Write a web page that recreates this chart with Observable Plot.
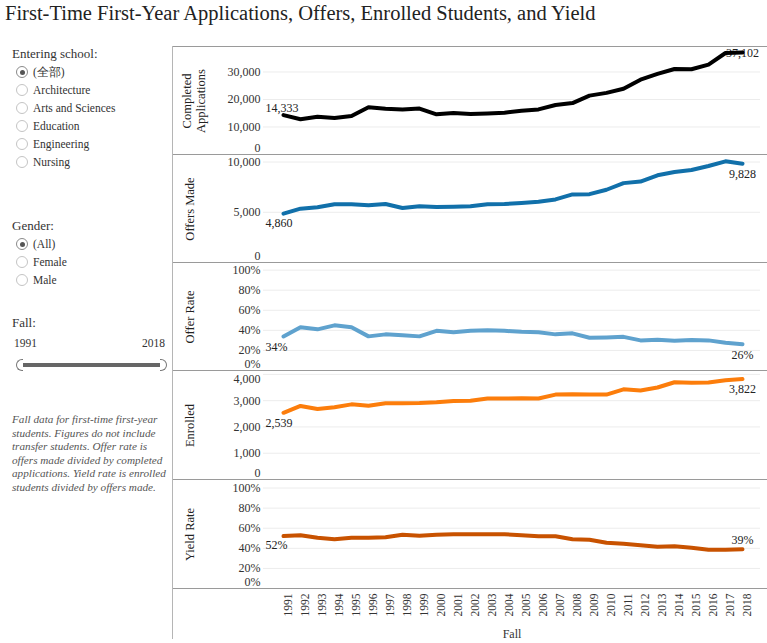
<!DOCTYPE html>
<html><head><meta charset="utf-8">
<script src="https://cdn.jsdelivr.net/npm/d3@7"></script>
<script src="https://cdn.jsdelivr.net/npm/@observablehq/plot@0.6"></script>
<style>
body{margin:0;width:767px;height:643px;overflow:hidden;background:#fff;font-family:"Liberation Serif",serif;color:#333;position:relative}
#title{position:absolute;left:5px;top:2px;font-size:20.5px;color:#222;white-space:nowrap}
.hdr{position:absolute;left:12px;font-size:13px;color:#333;line-height:16px}
.item{position:absolute;left:16px;font-size:11.5px;color:#333;line-height:14px;height:14px;white-space:nowrap}
.item .r{display:inline-block;width:12px;height:12px;border:1px solid #c4c4c4;border-radius:50%;box-sizing:border-box;vertical-align:-2px;margin-right:5px;position:relative}
.item .r.on{border-color:#8a8a8a}
.item .r.on::after{content:"";position:absolute;left:2.5px;top:2.5px;width:5px;height:5px;border-radius:50%;background:#555}
.yr{position:absolute;font-size:11.5px;color:#333}
#bar{position:absolute;left:22px;top:363px;width:138px;height:4px;background:#666}
.hd{position:absolute;top:359px;width:7px;height:12px;border:1px solid #777;background:#fff;box-sizing:border-box}
#note{position:absolute;left:12px;top:413px;font-size:11.2px;line-height:13.6px;font-style:italic;color:#555;white-space:nowrap}
#charts{position:absolute;left:172px;top:46px;width:594px;border-left:1px solid #b5b5b5}
.panel{border-top:1px solid #9a9a9a}
.panel svg,#xaxis svg{display:block;overflow:visible}
#xaxis{border-top:1px solid #9a9a9a}
</style></head>
<body>
<div id="title">First-Time First-Year Applications, Offers, Enrolled Students, and Yield</div>
<div id="side"></div>
<div id="bar"></div>
<div class="hd" style="left:16px;border-radius:6px 0 0 6px;border-right:none"></div>
<div class="hd" style="left:160px;border-radius:0 6px 6px 0;border-left:none"></div>
<div id="note">Fall data for first-time first-year<br>students. Figures do not include<br>transfer students. Offer rate is<br>offers made divided by completed<br>applications. Yield rate is enrolled<br>students divided by offers made.</div>
<div id="charts"></div>
<script>
// ---- data ----
const years = [1991,1992,1993,1994,1995,1996,1997,1998,1999,2000,2001,2002,2003,2004,2005,2006,2007,2008,2009,2010,2011,2012,2013,2014,2015,2016,2017,2018];
const applications = [14333,12800,13700,13300,14000,17200,16600,16400,16700,14600,15100,14700,14900,15200,15900,16400,18000,18700,21400,22400,23900,27200,29300,31100,31000,32700,36900,37102];
const offers = [4860,5360,5500,5790,5790,5690,5820,5430,5600,5530,5560,5600,5800,5820,5920,6050,6280,6780,6800,7240,7900,8060,8680,9000,9200,9600,10070,9828];
const offerRate = [0.339,0.43,0.41,0.45,0.43,0.34,0.36,0.35,0.34,0.395,0.38,0.395,0.40,0.395,0.385,0.38,0.36,0.37,0.326,0.33,0.335,0.30,0.306,0.296,0.305,0.30,0.276,0.262];
const enrolled = [2539,2800,2680,2750,2860,2810,2900,2900,2910,2940,2990,3000,3080,3080,3090,3080,3230,3240,3230,3230,3430,3390,3500,3700,3680,3690,3780,3822];
const yieldRate = [0.522,0.53,0.505,0.49,0.505,0.505,0.51,0.535,0.525,0.535,0.54,0.54,0.54,0.54,0.53,0.52,0.52,0.49,0.485,0.455,0.445,0.43,0.415,0.42,0.405,0.385,0.385,0.39];

const appTicks = [0,10000,20000,30000];
const offerTicks = [0,5000,10000];
const pctTicks = [0,0.2,0.4,0.6,0.8,1];
const enrTicks = [0,1000,2000,3000,4000];

const schools = ["(全部)","Architecture","Arts and Sciences","Education","Engineering","Nursing"];
const genders = ["(All)","Female","Male"];
const fallRange = [1991, 2018];

// ---- side filters ----
const side = document.getElementById("side");
function hdr(t, top){const d=document.createElement("div");d.className="hdr";d.style.top=top+"px";d.textContent=t;side.appendChild(d);}
function items(list, top){list.forEach((t,i)=>{const d=document.createElement("div");d.className="item";d.style.top=(top+i*18)+"px";d.innerHTML='<span class="r'+(i===0?' on':'')+'"></span>';d.appendChild(document.createTextNode(t));side.appendChild(d);});}
hdr("Entering school:", 46);
items(schools, 65);
hdr("Gender:", 218);
items(genders, 237);
hdr("Fall:", 315);
const y0=document.createElement("div");y0.className="yr";y0.style.left="14px";y0.style.top="337px";y0.textContent=fallRange[0];side.appendChild(y0);
const y1=document.createElement("div");y1.className="yr";y1.style.left="142px";y1.style.top="337px";y1.textContent=fallRange[1];side.appendChild(y1);

// ---- panels ----
const fmtN = d3.format(",");
const fmtP = d3.format(".0%");
const panels = [
  {values:applications, label:"Completed\nApplications", color:"#000000", max:38900, ticks:appTicks, fmt:fmtN, h:107, ldx:-70, first:{anchor:"bottom", dy:-3}, last:{anchor:"middle", dy:1}},
  {values:offers, label:"Offers Made", color:"#1170aa", max:10650, ticks:offerTicks, fmt:fmtN, h:107, ldx:-74, first:{anchor:"top", dy:5}, last:{anchor:"top", dy:6}},
  {values:offerRate, label:"Offer Rate", color:"#5fa2ce", max:1.066, ticks:pctTicks, fmt:fmtP, h:107, ldx:-74, first:{anchor:"top", dy:6}, last:{anchor:"top", dy:6}},
  {values:enrolled, label:"Enrolled", color:"#fc7d0b", max:4110, ticks:enrTicks, fmt:fmtN, h:108, ldx:-74, first:{anchor:"top", dy:6}, last:{anchor:"top", dy:5}},
  {values:yieldRate, label:"Yield Rate", color:"#c85200", max:1.075, ticks:pctTicks, fmt:fmtP, h:108, ldx:-74, first:{anchor:"top", dy:4}, last:{anchor:"bottom", dy:-5}}
];
const W = 594, ML = 90, MR = 7;
const xOpt = {type:"linear", domain:[years[0], years[years.length-1]], insetLeft:20, insetRight:18};
const charts = document.getElementById("charts");
const style = {fontFamily:"Liberation Serif", fontSize:"12px", color:"#333", background:"transparent"};

panels.forEach(p => {
  const data = years.map((y,i)=>({year:y, value:p.values[i]}));
  const first = [data[0]], last = [data[data.length-1]];
  const zero = p.ticks.filter(t=>t===0);
  const top = p.ticks.filter(t=>t/p.max>0.95);
  const mid = p.ticks.filter(t=>t!==0 && t/p.max<=0.95);
  const tickText = (arr, la, dy) => Plot.text(arr, {y:d=>d, text:d=>p.fmt(d), frameAnchor:"left", textAnchor:"end", lineAnchor:la, dx:-3, dy, fill:"#333"});
  const svg = Plot.plot({
    width: W, height: p.h, marginLeft: ML, marginRight: MR, marginTop: 0, marginBottom: 0,
    style,
    x: {...xOpt, axis:null},
    y: {domain:[0,p.max], axis:null},
    marks: [
      Plot.ruleY(p.ticks.filter(t=>t>0), {stroke:"#ececec", strokeWidth:1}),
      tickText(zero, "bottom", -3),
      tickText(mid, "middle", 0),
      tickText(top, "top", 0),
      Plot.text([p.label], {text:d=>d, frameAnchor:"left", textAnchor:"middle", dx:p.ldx, rotate:-90, fontSize:12.5, lineHeight:1.1, fill:"#222"}),
      Plot.text(first, {x:"year", y:"value", text:d=>p.fmt(d.value), textAnchor:"start", dx:-18, lineAnchor:p.first.anchor, dy:p.first.dy, fill:"#222"}),
      Plot.text(last, {x:"year", y:"value", text:d=>p.fmt(d.value), textAnchor:"middle", lineAnchor:p.last.anchor, dy:p.last.dy, fill:"#222"}),
      Plot.line(data, {x:"year", y:"value", stroke:p.color, strokeWidth:4, strokeLinejoin:"round", strokeLinecap:"round"})
    ]
  });
  const div = document.createElement("div");
  div.className = "panel";
  div.appendChild(svg);
  charts.appendChild(div);
});

const xa = document.createElement("div");
xa.id = "xaxis";
xa.appendChild(Plot.plot({
  width: W, height: 50, marginLeft: ML, marginRight: MR, marginTop: 0, marginBottom: 0,
  style,
  x: {...xOpt, axis:null},
  marks: [
    Plot.text(years, {x:d=>d, text:d=>String(d), frameAnchor:"top", rotate:-90, textAnchor:"end", dy:4, fill:"#333", fontSize:11.5}),
    Plot.text(["Fall"], {text:d=>d, frameAnchor:"bottom", lineAnchor:"bottom", dy:-2, fill:"#333"})
  ]
}));
charts.appendChild(xa);
</script>
</body></html>
